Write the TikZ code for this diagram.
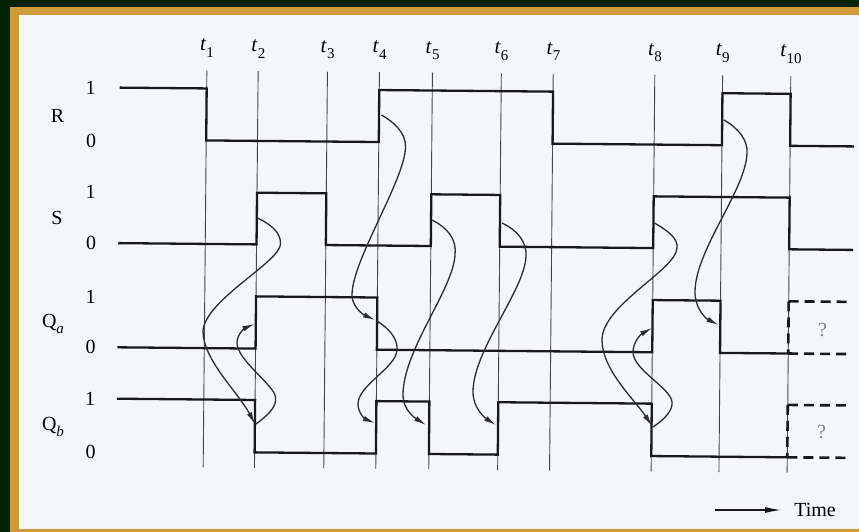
\documentclass[tikz,border=0pt]{standalone}
\usepackage{fontspec}
\setmainfont{Liberation Serif}
\usetikzlibrary{arrows.meta}
\definecolor{bgdark}{RGB}{2,34,6}
\definecolor{gold}{RGB}{206,154,58}
\definecolor{paper}{RGB}{244,246,250}
\definecolor{ink}{RGB}{25,25,25}
\definecolor{gridc}{RGB}{70,70,70}
\definecolor{curvec}{RGB}{45,45,45}
\definecolor{qgray}{RGB}{130,130,130}
\def\TA{205}\def\TB{256.3}\def\TC{325.6}\def\TD{377.6}\def\TE{430.6}
\def\TF{499.5}\def\TG{551.4}\def\TH{653}\def\TI{720.8}\def\TJ{789}
\def\lvRH{90.5}\def\lvRL{142.5}\def\lvSH{194.3}\def\lvSL{246}
\def\lvAH{298}\def\lvAL{350.2}\def\lvBH{401.6}\def\lvBL{454}
\newcommand{\mysub}[1]{\raisebox{-0.32em}{\fontsize{15}{18}\selectfont #1}}
\newcommand{\tlabel}[1]{{\itshape t}\kern0.5pt\mysub{#1}}
\begin{document}
\begin{tikzpicture}[x=1pt,y=-1pt,
  wave/.style={draw=ink,line width=2.3pt},
  dwave/.style={draw=ink,line width=2.6pt,dash pattern=on 10pt off 6pt},
  tline/.style={draw=gridc,line width=0.9pt},
  cause/.style={draw=curvec,line width=1.3pt,-{Latex[length=12pt,width=5.5pt]}},
  lab/.style={font=\fontsize{20}{24}\selectfont,inner sep=0pt},
  tlab/.style={font=\fontsize{21}{24}\selectfont,inner sep=0pt},
  qlab/.style={font=\fontsize{20}{24}\selectfont,inner sep=0pt,text=qgray},
]
\useasboundingbox (0,0) rectangle (859,532);
\fill[bgdark] (0,0) rectangle (859,532);
\fill[gold] (10,7) rectangle (859,532);
\fill[paper] (18.5,15) rectangle (859,529);

\begin{scope}[rotate around={-0.53:(430,270)}]
  % time lines
  \foreach \x in {\TA,\TB,\TC,\TD,\TE,\TF,\TG,\TH,\TI,\TJ}
    \draw[tline] (\x,72.7) -- (\x,469.4);
  % time labels
  \node[tlab] (lt1) at (\TA,50.5) {\tlabel{1}};
  \node[tlab] (lt2) at (\TB,50.5) {\tlabel{2}};
  \node[tlab] (lt3) at (\TC,50.5) {\tlabel{3}};
  \node[tlab] (lt4) at (\TD,50.5) {\tlabel{4}};
  \node[tlab] (lt5) at (\TE,50.5) {\tlabel{5}};
  \node[tlab] (lt6) at (\TF,50.5) {\tlabel{6}};
  \node[tlab] (lt7) at (\TG,50.5) {\tlabel{7}};
  \node[tlab] (lt8) at (\TH,50.5) {\tlabel{8}};
  \node[tlab] (lt9) at (\TI,50.5) {\tlabel{9}};
  \node[tlab] (lt10) at (\TJ,50.5) {\tlabel{10}};
  % R
  \draw[wave] (118,\lvRH) -- (\TA,\lvRH) -- (\TA,\lvRL) -- (\TD,\lvRL) -- (\TD,\lvRH)
    -- (\TG,\lvRH) -- (\TG,\lvRL) -- (\TI,\lvRL) -- (\TI,\lvRH) -- (\TJ,\lvRH)
    -- (\TJ,\lvRL) -- (853,\lvRL);
  % S
  \draw[wave] (118,\lvSL) -- (\TB,\lvSL) -- (\TB,\lvSH) -- (\TC,\lvSH) -- (\TC,\lvSL)
    -- (\TE,\lvSL) -- (\TE,\lvSH) -- (\TF,\lvSH) -- (\TF,\lvSL) -- (\TH,\lvSL)
    -- (\TH,\lvSH) -- (\TJ,\lvSH) -- (\TJ,\lvSL) -- (853,\lvSL);
  % Qa
  \draw[wave] (118,\lvAL) -- (\TB,\lvAL) -- (\TB,\lvAH) -- (\TD,\lvAH) -- (\TD,\lvAL)
    -- (\TH,\lvAL) -- (\TH,\lvAH) -- (\TI,\lvAH) -- (\TI,\lvAL) -- (\TJ,\lvAL);
  % Qb
  \draw[wave] (118,\lvBH) -- (\TB,\lvBH) -- (\TB,\lvBL) -- (\TD,\lvBL) -- (\TD,\lvBH)
    -- (\TE,\lvBH) -- (\TE,\lvBL) -- (\TF,\lvBL) -- (\TF,\lvBH) -- (\TH,\lvBH)
    -- (\TH,\lvBL) -- (\TJ,\lvBL);
  % unknown states
  \draw[dwave] (\TJ,\lvAH) -- (853,\lvAH);
  \draw[dwave] (\TJ,\lvAH) -- (\TJ,\lvAL);
  \draw[dwave] (\TJ,\lvAL) -- (853,\lvAL);
  \draw[dwave] (\TJ,\lvBH) -- (853,\lvBH);
  \draw[dwave] (\TJ,\lvBH) -- (\TJ,\lvBL);
  \draw[dwave] (\TJ,\lvBL) -- (853,\lvBL);
  \node[qlab] (qa) at (823,326) {?};
  \node[qlab] (qb) at (823,428) {?};
\end{scope}

% left labels
\node[lab] (r1) at (90.5,88) {1};
\node[lab] (r0) at (91,141) {0};
\node[lab] (rn) at (57.5,115.5) {R};
\node[lab] (s1) at (90.5,192) {1};
\node[lab] (s0) at (91,243) {0};
\node[lab] (sn) at (57,218) {S};
\node[lab] (a1l) at (90.5,297) {1};
\node[lab] (a0l) at (90.5,347) {0};
\node[lab,anchor=base] (an) at (53,327) {Q\mysub{\itshape a}};
\node[lab] (b1l) at (90,399) {1};
\node[lab] (b0l) at (90.5,451.5) {0};
\node[lab,anchor=base] (bn) at (53,430) {Q\mysub{\itshape b}};

% causal arrows
\coordinate (ca0) at (257.5,218); \coordinate (ca1) at (255,424);
\draw[cause] (ca0) .. controls (270,224) and (281,232) .. (280.5,244)
  .. controls (280,262) and (205,300) .. (203,331)
  .. controls (203,360) and (238,392) .. (ca1);
\coordinate (cb0) at (256,424); \coordinate (cb1) at (254.5,324);
\draw[cause] (cb0) .. controls (268,415) and (277,407) .. (275.5,397)
  .. controls (274,385) and (237,360) .. (237,343)
  .. controls (237,334) and (245,328) .. (cb1);
\coordinate (cc0) at (381.5,115); \coordinate (cc1) at (375,320);
\draw[cause] (cc0) .. controls (394,122) and (406,133) .. (405.5,147)
  .. controls (405,180) and (352,260) .. (352,295)
  .. controls (352,306) and (362,314) .. (cc1);
\coordinate (cd0) at (377,321); \coordinate (cd1) at (375,423);
\draw[cause] (cd0) .. controls (388,328) and (398,338) .. (397,350)
  .. controls (396,368) and (358,385) .. (358,404)
  .. controls (358,413) and (365,419) .. (cd1);
\coordinate (ce0) at (432,220); \coordinate (ce1) at (426,425);
\draw[cause] (ce0) .. controls (448,228) and (457,240) .. (455,255)
  .. controls (453,290) and (403,350) .. (403,395)
  .. controls (403,410) and (415,418) .. (ce1);
\coordinate (cf0) at (502,223); \coordinate (cf1) at (496,425);
\draw[cause] (cf0) .. controls (517,230) and (527,242) .. (526,256)
  .. controls (525,290) and (473,350) .. (473,392)
  .. controls (473,408) and (485,418) .. (cf1);
\coordinate (cg0) at (654.5,223); \coordinate (cg1) at (652,426);
\draw[cause] (cg0) .. controls (668,231) and (678,238) .. (677,248)
  .. controls (676,270) and (602,305) .. (602,340)
  .. controls (602,370) and (635,400) .. (cg1);
\coordinate (ch0) at (653,427); \coordinate (ch1) at (652,328);
\draw[cause] (ch0) .. controls (665,419) and (673,410) .. (672,402)
  .. controls (671,388) and (633,370) .. (633,352)
  .. controls (633,342) and (641,334) .. (ch1);
\coordinate (ci0) at (724,120); \coordinate (ci1) at (718.5,325);
\draw[cause] (ci0) .. controls (738,128) and (748,140) .. (747,153)
  .. controls (746,190) and (695,250) .. (695,292)
  .. controls (695,308) and (705,318) .. (ci1);

% time arrow
\node[lab] (timelbl) at (815,510) {Time};
\coordinate (tstart) at (715,510);
\draw[draw=ink,line width=1.2pt,-{Latex[length=16pt,width=6pt]}] (tstart) -- ([xshift=-13pt]timelbl.west);
\end{tikzpicture}
\end{document}
